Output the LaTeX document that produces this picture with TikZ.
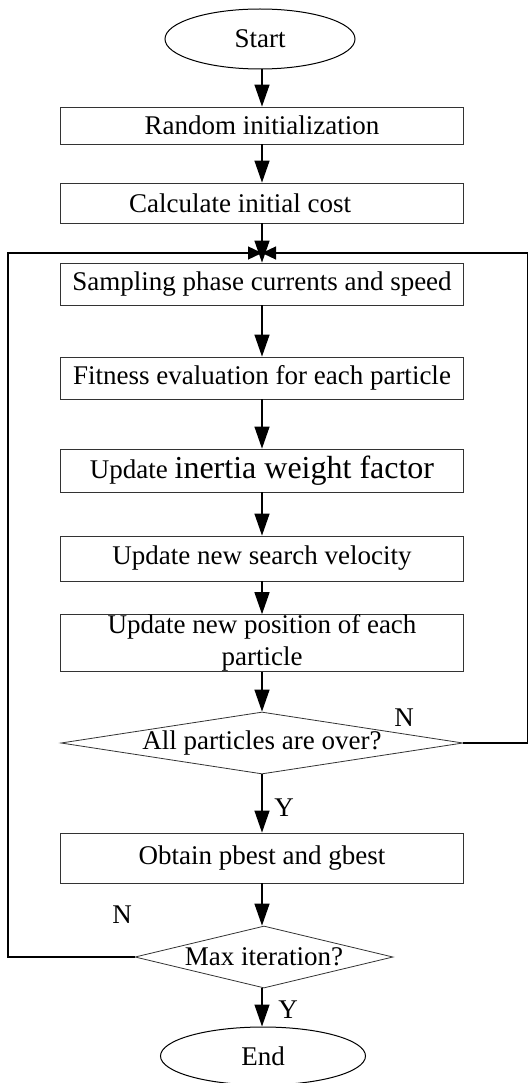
\documentclass[tikz,border=0pt]{standalone}
\usepackage{fontspec}
\setmainfont{Liberation Serif}
\usetikzlibrary{arrows.meta,shapes.geometric}
\begin{document}
\begin{tikzpicture}[x=1pt,y=-1pt,
  every node/.style={font=\fontsize{27}{32}\selectfont},
  procbox/.style={draw=black!80,line width=0.8pt,rectangle,minimum width=403pt,inner sep=0pt,align=center},
  term/.style={draw=black,line width=1pt,ellipse,inner sep=0pt},
  decision/.style={draw=black!80,line width=0.8pt,diamond,inner sep=0pt},
  flow/.style={line width=1.3pt,-{Triangle[length=22pt,width=15pt]}},
  backflow/.style={line width=1.3pt,-{Triangle[length=14pt,width=13pt]}},
  lbl/.style={inner sep=0pt}]
\useasboundingbox (0,0) rectangle (528,1083);
\node[term,minimum width=190pt,minimum height=60pt] (start) at (260,39) {Start};
\node[procbox,minimum height=37pt] (rand) at (262,125.5) {Random initialization};
\node[procbox,minimum height=40pt] (calc) at (262,203) {Calculate initial cost\hspace*{44pt}};
\node[procbox,minimum height=42pt] (samp) at (262,284) {Sampling phase currents and speed};
\node[procbox,minimum height=42pt] (fit) at (262,378) {Fitness evaluation for each particle};
\node[procbox,minimum height=43pt] (inert) at (262,470.5) {Update {\fontsize{32}{36}\selectfont inertia weight factor}};
\node[procbox,minimum height=45pt] (vel) at (262,558.5) {Update new search velocity};
\node[procbox,minimum height=54pt] (pos) at (262,643) {Update new position of each\\particle};
\node[decision,minimum width=402pt,minimum height=62pt,label={center:All particles are over?}] (d1) at (262,743) {};
\node[procbox,minimum height=50pt] (obt) at (262,858) {Obtain pbest and gbest};
\node[decision,minimum width=258pt,minimum height=62pt,label={center:Max iteration?}] (d2) at (264,957) {};
\node[term,minimum width=205pt,minimum height=58pt] (end) at (263,1056) {End};
\coordinate (j) at (262,253);
\coordinate (r1) at (527.5,743);
\coordinate (r2) at (527.5,253);
\coordinate (l1) at (8,957);
\coordinate (l2) at (8,253);
\draw[flow] (start.south -| rand.north) -- (rand.north);
\draw[flow] (rand) -- (calc);
\draw[flow] (calc) -- (samp);
\draw[flow] (samp) -- (fit);
\draw[flow] (fit) -- (inert);
\draw[flow] (inert) -- (vel);
\draw[flow] (vel) -- (pos);
\draw[flow] (pos) -- (d1.north);
\draw[flow] (d1.south) -- (obt.north);
\draw[flow] (obt.south) -- (d2.north -| obt.south);
\draw[flow] (d2.south -| obt.south) -- (end.north -| obt.south);
\draw[backflow] (d1.east) -- (r1) -- (r2) -- (j);
\draw[backflow] (d2.west) -- (l1) -- (l2) -- (j);
\node[lbl] (n1) at (404,718) {N};
\node[lbl] (y1) at (284,808) {Y};
\node[lbl] (n2) at (122,915) {N};
\node[lbl] (y2) at (288,1010) {Y};
\end{tikzpicture}
\end{document}
